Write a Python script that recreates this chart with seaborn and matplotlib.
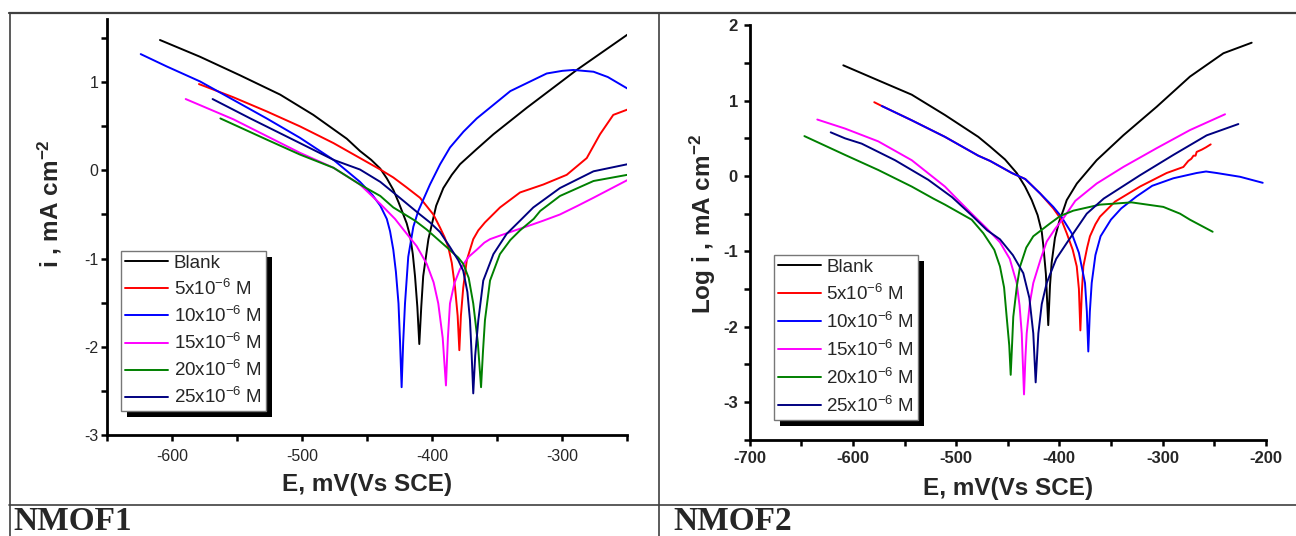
import numpy as np
import pandas as pd
import matplotlib
matplotlib.use("Agg")
import matplotlib.pyplot as plt
import seaborn as sns
from matplotlib.patches import Rectangle
from matplotlib.lines import Line2D
from matplotlib.ticker import MultipleLocator

sns.set_theme(style="white")
plt.rcParams['font.family'] = ['Liberation Sans', 'DejaVu Sans']
plt.rcParams['mathtext.default'] = 'regular'
plt.rcParams['axes.unicode_minus'] = False

series_labels = ["Blank", "5x10$^{-6}$ M", "10x10$^{-6}$ M", "15x10$^{-6}$ M",
                 "20x10$^{-6}$ M", "25x10$^{-6}$ M"]
series_colors = ["#000000", "#FF0000", "#0000FF", "#FF00FF", "#008000", "#000080"]

# ---------------- NMOF1 (E in mV, i) ----------------
n1_blank_E = [-609.5, -578.7, -548, -517, -491.5, -465.8, -455.6, -447, -440, -435, -430, -426, -422.3, -419.7,
              -417, -415, -413.3, -411.5, -410, -408.5, -407, -403, -397, -391.5, -385, -378.7, -366, -353,
              -327.4, -288.9, -250]
n1_blank_i = [1.48, 1.29, 1.08, 0.86, 0.63, 0.36, 0.22, 0.12, 0.02, -0.09, -0.22, -0.36, -0.50, -0.60,
              -0.75, -0.95, -1.20, -1.55, -1.97, -1.55, -1.20, -0.78, -0.40, -0.20, -0.05, 0.07, 0.24, 0.41,
              0.71, 1.14, 1.54]
n1_5_E = [-579.5, -553, -527.4, -501.8, -476, -455.6, -440, -430, -420, -409.5, -399.2, -394, -390.5, -387.7,
          -385, -382.5, -380.5, -379.2, -378, -376.2, -373.5, -368.5, -364.6, -359.5, -347.9, -332.5, -314.6,
          -296.6, -281.2, -271, -260.8, -250]
n1_5_i = [0.98, 0.83, 0.67, 0.50, 0.31, 0.14, 0.01, -0.08, -0.19, -0.31, -0.50, -0.65, -0.76, -0.87,
          -1.05, -1.33, -1.65, -2.04, -1.65, -1.33, -1.02, -0.78, -0.68, -0.59, -0.42, -0.25, -0.16,
          -0.05, 0.14, 0.41, 0.63, 0.69]
n1_10_E = [-624.3, -604.3, -578.7, -553, -527.4, -501.8, -476, -455.6, -446, -440, -435, -432.5, -430, -428,
           -426, -424.8, -423.6, -422.4, -421, -418.5, -414.6, -410.8, -406, -401.8, -394, -386.4, -376,
           -365.8, -340, -312, -300, -291.5, -276, -265, -250]
n1_10_i = [1.32, 1.18, 1.01, 0.80, 0.59, 0.37, 0.12, -0.13, -0.28, -0.40, -0.55, -0.69, -0.90, -1.15,
           -1.51, -1.95, -2.46, -1.95, -1.51, -0.98, -0.64, -0.46, -0.30, -0.16, 0.07, 0.26, 0.44,
           0.59, 0.90, 1.10, 1.13, 1.14, 1.12, 1.06, 0.93]
n1_15_E = [-589.7, -553, -527.4, -501.8, -476, -455.6, -440, -428.7, -422.3, -412, -404.3, -399, -395.4, -392,
           -389.5, -388, -386.4, -383, -378.7, -372, -365.8, -360, -355.6, -348, -340.2, -322.3, -314.6,
           -301.8, -288, -276, -250]
n1_15_i = [0.81, 0.58, 0.39, 0.20, 0.03, -0.16, -0.38, -0.55, -0.67, -0.86, -1.06, -1.27, -1.51, -1.90,
           -2.44, -1.90, -1.51, -1.28, -1.12, -0.98, -0.90, -0.82, -0.78, -0.74, -0.70, -0.61, -0.57,
           -0.50, -0.40, -0.31, -0.11]
n1_20_E = [-563, -527.4, -501.8, -476, -455.6, -440, -430, -413.3, -404.4, -389, -380, -376.2, -372, -368.5,
           -365, -362.5, -361, -359.5, -355.6, -348, -340, -332.5, -322, -317, -301.8, -276, -250]
n1_20_i = [0.59, 0.35, 0.18, 0.03, -0.16, -0.29, -0.42, -0.57, -0.67, -0.87, -0.99, -1.06, -1.22, -1.51,
           -1.95, -2.46, -2.05, -1.70, -1.25, -0.95, -0.79, -0.68, -0.55, -0.46, -0.29, -0.12, -0.05]
n1_25_E = [-569, -540, -501.8, -476, -455.6, -440, -430, -409.5, -401.8, -394, -386.4, -380, -376.2, -373,
           -371, -369.7, -368.5, -367, -364.6, -360.8, -353, -342.8, -332.5, -322.3, -301.8, -276, -250]
n1_25_i = [0.81, 0.59, 0.31, 0.12, 0.01, -0.13, -0.25, -0.50, -0.59, -0.70, -0.87, -1.02, -1.14, -1.38,
           -1.70, -2.10, -2.53, -2.10, -1.70, -1.25, -0.95, -0.72, -0.57, -0.42, -0.20, -0.01, 0.07]

# ---------------- NMOF2 (E in mV, log i) ----------------
n2_blank_E = [-609.3, -575.4, -543, -510.8, -478.5, -467, -452.6, -441.3, -433.2, -426.7, -421, -417, -415.5,
              -413, -410.7, -409, -407.4, -404.2, -400, -396, -392.8, -383, -363.8, -338, -305.6, -273.4,
              -241, -213.6]
n2_blank_i = [1.47, 1.27, 1.08, 0.81, 0.52, 0.39, 0.22, 0.04, -0.14, -0.32, -0.52, -0.74, -0.92,
              -1.30, -1.98, -1.45, -1.15, -0.82, -0.60, -0.45, -0.32, -0.10, 0.21, 0.54, 0.92, 1.32,
              1.63, 1.77]
n2_5_E = [-579.3, -572, -543, -510.8, -478.5, -467, -446, -433, -418.7, -405.8, -398, -392.8, -387, -383.1,
          -381, -379.6, -378.2, -376.7, -373, -370.3, -365, -360.6, -346, -321.8, -296, -279.8, -275, -272,
          -270, -268, -266.9, -262, -258, -253.3]
n2_5_i = [0.98, 0.93, 0.74, 0.52, 0.27, 0.20, 0.04, -0.04, -0.23, -0.43, -0.58, -0.76, -0.98, -1.20,
          -1.50, -2.05, -1.55, -1.20, -0.95, -0.80, -0.64, -0.54, -0.34, -0.14, 0.04, 0.12, 0.20, 0.23,
          0.27, 0.27, 0.32, 0.35, 0.38, 0.42]
n2_10_E = [-572, -543, -510.8, -478.5, -467, -446, -433, -418.7, -405.8, -398, -388, -381, -375.1, -373.3,
           -371.9, -370.4, -368.6, -365, -360, -350, -340, -325, -310, -289.5, -266.9, -257.8, -247.5,
           -224.9, -202.9]
n2_10_i = [0.93, 0.74, 0.52, 0.27, 0.20, 0.04, -0.04, -0.23, -0.41, -0.54, -0.76, -1.02, -1.42, -1.80,
           -2.33, -1.80, -1.42, -1.05, -0.80, -0.58, -0.43, -0.27, -0.13, -0.03, 0.04, 0.06, 0.04,
           -0.01, -0.09]
n2_15_E = [-634.5, -607.6, -575.4, -543, -510.8, -499.4, -484.9, -470, -457.5, -448, -441.3, -438.5, -436.4,
           -434.2, -432.8, -431.6, -428.5, -425.2, -418, -412.2, -404, -396, -384.5, -363.8, -338, -305.6,
           -273.4, -239.4]
n2_15_i = [0.75, 0.63, 0.46, 0.21, -0.14, -0.30, -0.50, -0.70, -0.88, -1.10, -1.42, -1.72, -2.09,
           -2.90, -2.40, -2.09, -1.68, -1.42, -1.10, -0.87, -0.70, -0.56, -0.33, -0.10, 0.12, 0.37,
           0.61, 0.82]
n2_20_E = [-647, -607.6, -575.4, -543, -522, -510.8, -484.9, -473.6, -463, -457.5, -453.5, -451, -448.5,
           -447.1, -445.8, -444.6, -441, -438, -432, -425.2, -409, -399, -386.4, -360.6, -330, -299.2,
           -283, -273.4, -251.4]
n2_20_i = [0.53, 0.28, 0.08, -0.14, -0.30, -0.38, -0.58, -0.76, -0.98, -1.20, -1.48, -1.87, -2.25,
           -2.64, -2.25, -1.87, -1.45, -1.20, -0.95, -0.80, -0.63, -0.53, -0.46, -0.38, -0.35, -0.41,
           -0.50, -0.58, -0.74]
n2_25_E = [-621.5, -607.6, -591.5, -559.2, -527, -504, -485, -470, -457.5, -445, -434.9, -429, -425.2,
           -422.9, -420.3, -417, -412.2, -403, -392.8, -373.4, -357, -321.8, -289.5, -257.2, -226.5]
n2_25_i = [0.58, 0.50, 0.43, 0.21, -0.05, -0.28, -0.52, -0.72, -0.84, -1.05, -1.29, -1.62, -2.09,
           -2.74, -2.09, -1.70, -1.42, -1.10, -0.89, -0.50, -0.30, 0.01, 0.28, 0.54, 0.69]

n1_E = [n1_blank_E, n1_5_E, n1_10_E, n1_15_E, n1_20_E, n1_25_E]
n1_i = [n1_blank_i, n1_5_i, n1_10_i, n1_15_i, n1_20_i, n1_25_i]
n2_E = [n2_blank_E, n2_5_E, n2_10_E, n2_15_E, n2_20_E, n2_25_E]
n2_i = [n2_blank_i, n2_5_i, n2_10_i, n2_15_i, n2_20_i, n2_25_i]


def make_df(Es, Is):
    rows = []
    for lab, e, v in zip(series_labels, Es, Is):
        for k, (a, b) in enumerate(zip(e, v)):
            rows.append({"E": a, "i": b, "series": lab, "order": k})
    return pd.DataFrame(rows)


W, H = 1296, 536
fig = plt.figure(figsize=(W / 100, H / 100), dpi=100)


def fx(px):
    return px / W


def fy(py):
    return 1 - py / H


# table lines
fig.add_artist(Line2D([fx(9), fx(1296)], [fy(13), fy(13)], color="#404040", lw=1.6))
fig.add_artist(Line2D([fx(9.5), fx(9.5)], [fy(13), 0], color="#404040", lw=1.2))
fig.add_artist(Line2D([fx(658.5), fx(658.5)], [fy(13), 0], color="#404040", lw=1.2))
fig.add_artist(Line2D([fx(9), fx(1296)], [fy(504.5), fy(504.5)], color="#404040", lw=1.2))
fig.text(fx(13), fy(530), "NMOF1", family="Liberation Serif", weight="bold", fontsize=24, va="baseline")
fig.text(fx(673), fy(530), "NMOF2", family="Liberation Serif", weight="bold", fontsize=24, va="baseline")

# axes
ax1 = fig.add_axes([fx(107.3), fy(434.8), (627.3 - 107.3) / W, (434.8 - 18.85) / H])
ax2 = fig.add_axes([fx(749.7), fy(439.6), (1265.7 - 749.7) / W, (439.6 - 25.4) / H])

pal = dict(zip(series_labels, series_colors))
for ax, Es, Is in [(ax1, n1_E, n1_i), (ax2, n2_E, n2_i)]:
    df = make_df(Es, Is)
    sns.lineplot(data=df, x="E", y="i", hue="series", hue_order=series_labels, palette=pal,
                 sort=False, estimator=None, units="series", ax=ax, lw=1.4, legend=False)

ax1.set_xlim(-650, -250)
ax1.set_ylim(-3, 1.72)
ax2.set_xlim(-700, -200)
ax2.set_ylim(-3.5, 2)

for ax in (ax1, ax2):
    for s in ("top", "right"):
        ax.spines[s].set_visible(False)
    for s in ("left", "bottom"):
        ax.spines[s].set_linewidth(2.0)
        ax.spines[s].set_color("black")
    ax.xaxis.set_major_locator(MultipleLocator(100))
    ax.xaxis.set_minor_locator(MultipleLocator(50))
    ax.yaxis.set_major_locator(MultipleLocator(1))
    ax.yaxis.set_minor_locator(MultipleLocator(0.5))
    ax.tick_params(which="both", direction="out", length=4.5, width=1.8, color="black",
                   bottom=True, left=True)
    ax.set_facecolor("white")

ax1.tick_params(axis="x", which="major", labelsize=11.5, pad=6)
ax1.tick_params(axis="y", which="major", labelsize=11.5, pad=2)
ax2.tick_params(axis="both", which="major", labelsize=12, pad=4)
for lab in ax2.get_xticklabels() + ax2.get_yticklabels():
    lab.set_fontweight("bold")

ax1.set_xlabel("E, mV(Vs SCE)", fontsize=17.5, fontweight="bold")
ax1.set_ylabel("i , mA cm$^{-2}$", fontsize=17.5, fontweight="bold")
ax2.set_xlabel("E, mV(Vs SCE)", fontsize=17.5, fontweight="bold")
ax2.set_ylabel("Log i , mA cm$^{-2}$", fontsize=17.5, fontweight="bold")
ax1.xaxis.set_label_coords(0.5, (434.8 - 473) / 415.95)
ax1.yaxis.set_label_coords((64 - 107.3) / 520, (434.8 - 204) / 415.95)
ax2.xaxis.set_label_coords(0.5, (439.6 - 477) / 414.2)
ax2.yaxis.set_label_coords((718 - 749.7) / 516, (439.6 - 224) / 414.2)

handles = [Line2D([], [], color=c, lw=1.4) for c in series_colors]
legs = []
for ax, (lx, ly), (x0, y0, wpx, hpx), lsp in [
        (ax1, (121, 250.7), (107.3, 434.8, 520, 415.95), 0.37),
        (ax2, (773.5, 254.7), (749.7, 439.6, 516, 414.2), 0.42)]:
    leg = ax.legend(handles, series_labels, loc="upper left",
                    bbox_to_anchor=((lx - x0) / wpx, (y0 - ly) / hpx),
                    borderaxespad=0, fontsize=13.5, frameon=True, fancybox=False,
                    handlelength=2.3, handletextpad=0.3, labelspacing=lsp,
                    borderpad=0.22)
    leg.get_frame().set_edgecolor("#777777")
    leg.get_frame().set_linewidth(1.0)
    leg.get_frame().set_facecolor("white")
    leg.get_frame().set_alpha(1)
    leg.set_zorder(10)
    legs.append((ax, leg))

fig.canvas.draw()
for ax, leg in legs:
    bb = leg.get_window_extent()
    off = 6
    ax.add_patch(Rectangle((bb.x0 + off, bb.y0 - off), bb.width, bb.height,
                           transform=None, facecolor="black", edgecolor="none",
                           zorder=9, clip_on=False))

fig.savefig("out.png", dpi=100, facecolor="white")
